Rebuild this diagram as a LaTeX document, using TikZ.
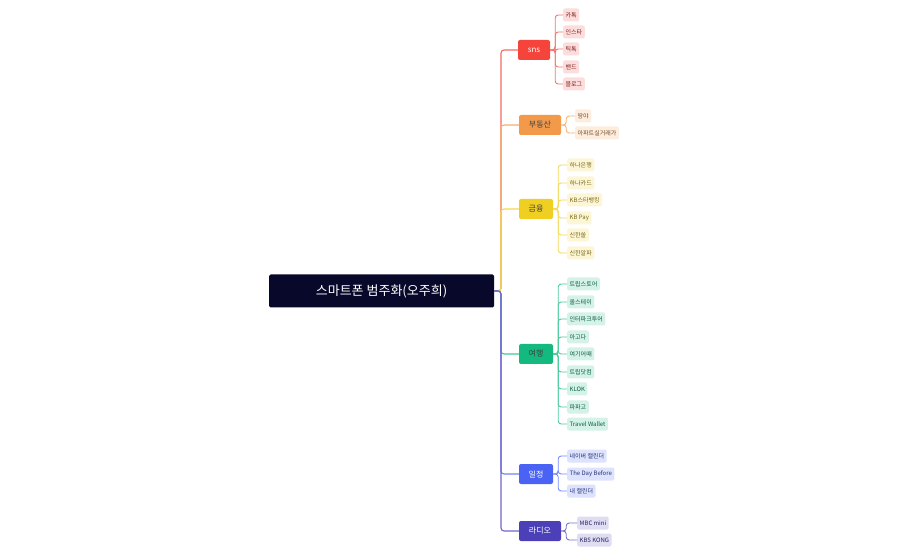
\documentclass[tikz,border=0pt]{standalone}
\usepackage{fontspec}
\setmainfont{Noto Sans CJK KR}
\usetikzlibrary{calc}
\definecolor{cS}{HTML}{F5443C}\definecolor{cB}{HTML}{F39A4A}\definecolor{cG}{HTML}{EFCF22}
\definecolor{cY}{HTML}{14B97F}\definecolor{cI}{HTML}{4A63F5}\definecolor{cR}{HTML}{4B40B8}
\definecolor{root}{HTML}{08082A}
\tikzset{
 br/.style={rounded corners=2pt,minimum height=20pt,inner xsep=5pt,font=\fontsize{8}{9}\selectfont,anchor=center},
 lf/.style={rounded corners=2pt,minimum height=13pt,inner xsep=2.5pt,inner ysep=0pt,font=\fontsize{6}{7}\selectfont,anchor=west},
 ln/.style={line width=1.1pt,rounded corners=3pt}
}
\begin{document}
\begin{tikzpicture}[x=1pt,y=-1pt]
\useasboundingbox[fill=white] (0,0) rectangle (898,556);
\node[fill=root,text=white,rounded corners=1.5pt,minimum width=225pt,minimum height=33pt,font=\fontsize{13}{15}\selectfont] (r) at (381.5,291) {스마트폰 범주화(오주희)};
\def\tx{501}
% branches
\node[br,fill=cS,text=white,minimum width=32pt] (s) at (534,50) {sns};
\node[br,fill=cB,text=black!75,minimum width=42pt] (b) at (540,125) {부동산};
\node[br,fill=cG,text=black!75,minimum width=34pt] (g) at (536,209) {금융};
\node[br,fill=cY,text=black!75,minimum width=34pt] (y) at (536,354) {여행};
\node[br,fill=cI,text=white,minimum width=34pt] (i) at (536,474) {일정};
\node[br,fill=cR,text=white,minimum width=42pt] (d) at (540,531) {라디오};
\foreach \n/\c in {s/cS,b/cB,g/cG,y/cY,i/cI,d/cR}
  \draw[ln,\c!80] (r.east) -- (\tx,291) |- (\n.west);
% leaves
\newcommand\leaves[4]{% branch, color, x, list y/text
 \foreach \yy/\t [count=\k] in {#4}{
  \node[lf,fill=#2!18,text=#2!50!black] (#1l\k) at (#3,\yy) {\t};
  \draw[ln,#2!75,line width=0.9pt] (#1.east) -- ($(#1.east)+(5,0)$) |- (#1l\k.west);
 }}
\leaves{s}{cS}{563}{15/카톡,32/인스타,49/틱톡,67/밴드,84/블로그}
\leaves{b}{cB}{575}{116/땅야,133/아파트실거래가}
\leaves{g}{cG}{567}{165/하나은행,183/하나카드,200/KB스타뱅킹,218/KB Pay,235/신한쏠,253/신한알파}
\leaves{y}{cY}{567}{284/트립스토어,302/올스테이,319/인터파크투어,337/아고다,354/여기어때,372/트립닷컴,389/KLOK,407/파파고,424/Travel Wallet}
\leaves{i}{cI}{567}{456/네이버 캘린더,474/The Day Before,491/내 캘린더}
\leaves{d}{cR}{577}{523/MBC mini,540/KBS KONG}
\end{tikzpicture}
\end{document}
